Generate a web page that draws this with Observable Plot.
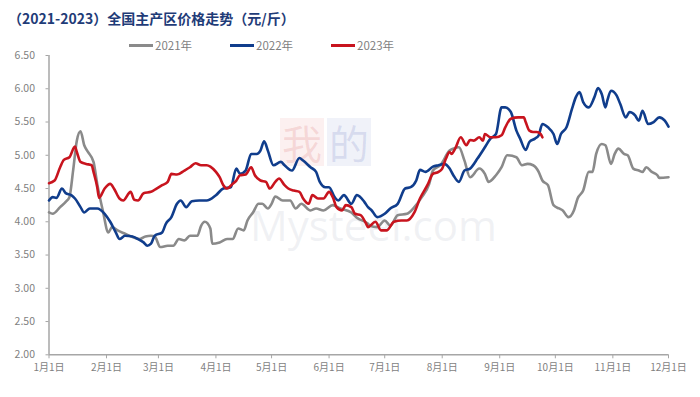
<!DOCTYPE html>
<html><head><meta charset="utf-8">
<script src="https://cdn.jsdelivr.net/npm/d3@7"></script>
<script src="https://cdn.jsdelivr.net/npm/@observablehq/plot@0.6"></script>
<style>
body{margin:0;background:#fff;font-family:"Noto Sans CJK SC","Noto Sans",sans-serif;}
#wrap{position:relative;width:700px;height:397px;overflow:hidden;background:#fff;}
#title{position:absolute;left:8px;top:8px;font-size:14px;font-weight:bold;color:#1f3c78;white-space:nowrap;}
.leg{position:absolute;top:37px;height:16px;font-size:11.5px;color:#7f7f7f;display:flex;align-items:center;white-space:nowrap;}
.leg .l{display:inline-block;width:24px;height:0;border-top:3px solid;margin-right:2px;}
#chart{position:absolute;left:0;top:40px;}
.wm{position:absolute;pointer-events:none;}
</style>
</head><body>
<div id="wrap">
  <div class="wm" style="left:280px;top:118px;width:44px;height:48px;background:rgba(225,110,110,0.10);color:rgba(210,80,80,0.16);font-size:40px;line-height:48px;text-align:center;">我</div>
  <div class="wm" style="left:327px;top:118px;width:44px;height:48px;background:rgba(110,130,200,0.10);color:rgba(80,100,180,0.16);font-size:40px;line-height:48px;text-align:center;">的</div>
  <div class="wm" style="left:250px;top:196px;font-size:42px;font-family:'Open Sans',sans-serif;color:rgba(190,195,205,0.22);">Mysteel.com</div>
  <div id="title"></div>
  <div id="legend"></div>
  <div id="chart"></div>
</div>
<script>
const titleText = "（2021-2023）全国主产区价格走势（元/斤）";
const seriesNames = ["2021年", "2022年", "2023年"];
const seriesColors = ["#8a8a8a", "#103d8c", "#c8141e"];
const yTicks = [2.0, 2.5, 3.0, 3.5, 4.0, 4.5, 5.0, 5.5, 6.0, 6.5];
const monthTicks = ["01-01","02-01","03-01","04-01","05-01","06-01","07-01","08-01","09-01","10-01","11-01","12-01"];

const dates2021 = ["01-01","01-03","01-07","01-10","01-12","01-14","01-16","01-18","01-20","01-22","01-25","01-27","01-30","02-02","02-04","02-07","02-11","02-15","02-19","02-22","02-25","02-27","03-02","03-06","03-09","03-12","03-15","03-18","03-22","03-24","03-26","03-29","03-30","04-03","04-07","04-10","04-13","04-16","04-18","04-21","04-24","04-26","04-29","05-01","05-03","05-07","05-11","05-14","05-17","05-22","05-25","05-29","06-03","06-07","06-13","06-16","06-22","06-23","06-27","07-01","07-04","07-08","07-13","07-17","07-21","07-25","07-27","07-31","08-05","08-07","08-10","08-13","08-16","08-21","08-24","08-26","08-30","09-02","09-05","09-10","09-13","09-16","09-19","09-22","09-24","09-27","09-30","10-03","10-05","10-08","10-11","10-13","10-16","10-19","10-21","10-23","10-26","10-28","10-31","11-02","11-04","11-07","11-09","11-12","11-15","11-17","11-19","11-22","11-25","11-26","12-01"];
const values2021 = [4.14,4.12,4.22,4.30,4.37,4.77,5.22,5.36,5.15,5.05,4.90,4.57,4.17,3.84,3.92,3.87,3.82,3.77,3.74,3.78,3.79,3.78,3.62,3.64,3.64,3.74,3.72,3.79,3.79,3.94,4.00,3.90,3.67,3.69,3.74,3.74,3.90,3.87,4.02,4.14,4.27,4.27,4.20,4.27,4.38,4.32,4.32,4.20,4.27,4.17,4.20,4.17,4.25,4.20,4.14,4.06,3.97,3.94,3.92,4.02,3.94,4.10,4.12,4.22,4.37,4.57,4.77,4.85,5.07,5.10,5.12,4.92,4.67,4.80,4.72,4.60,4.70,4.82,5.00,4.97,4.85,4.87,4.85,4.75,4.62,4.55,4.25,4.20,4.17,4.07,4.17,4.35,4.47,4.75,4.75,5.02,5.17,5.15,4.87,5.02,5.10,5.02,5.00,4.80,4.77,4.75,4.82,4.75,4.70,4.66,4.67];

const dates2022 = ["01-01","01-03","01-05","01-08","01-10","01-13","01-15","01-18","01-20","01-23","01-27","01-31","02-03","02-06","02-08","02-11","02-15","02-18","02-21","02-23","02-25","02-27","03-03","03-05","03-08","03-11","03-13","03-16","03-19","03-23","03-27","04-01","04-05","04-09","04-12","04-14","04-17","04-20","04-23","04-25","04-27","04-29","05-02","05-06","05-08","05-12","05-16","05-18","05-22","05-25","05-27","05-30","06-01","06-04","06-06","06-09","06-13","06-16","06-20","06-22","06-24","06-27","07-01","07-04","07-08","07-12","07-15","07-18","07-20","07-23","07-27","07-30","08-02","08-05","08-07","08-10","08-13","08-16","08-20","08-24","08-27","08-30","09-02","09-04","09-07","09-10","09-12","09-15","09-17","09-20","09-22","09-24","09-27","09-30","10-02","10-04","10-07","10-10","10-12","10-14","10-16","10-19","10-22","10-24","10-26","10-28","10-29","10-31","11-03","11-05","11-08","11-10","11-13","11-15","11-17","11-20","11-23","11-26","11-29","12-01"];
const values2022 = [4.32,4.37,4.36,4.50,4.43,4.40,4.35,4.22,4.14,4.20,4.20,4.12,4.00,3.84,3.74,3.79,3.78,3.74,3.69,3.64,3.67,3.79,3.84,3.97,4.07,4.27,4.32,4.22,4.31,4.32,4.32,4.40,4.50,4.52,4.80,4.72,4.77,5.02,5.02,5.07,5.21,5.07,4.85,4.90,4.85,4.77,4.96,4.92,4.82,4.75,4.60,4.52,4.52,4.37,4.32,4.40,4.27,4.40,4.30,4.22,4.17,4.07,4.12,4.20,4.27,4.50,4.52,4.62,4.78,4.75,4.83,4.85,4.87,4.80,4.70,4.60,4.77,4.80,4.95,5.12,5.25,5.32,5.72,5.72,5.65,5.37,5.25,5.08,5.20,5.25,5.30,5.47,5.42,5.32,5.17,5.32,5.42,5.70,5.87,5.95,5.80,5.72,5.87,6.01,5.92,5.72,5.82,5.97,5.90,5.77,5.57,5.65,5.60,5.52,5.67,5.47,5.50,5.57,5.52,5.43];

const dates2023 = ["01-01","01-04","01-07","01-09","01-12","01-15","01-16","01-18","01-21","01-24","01-25","01-27","01-28","01-31","02-03","02-05","02-08","02-10","02-14","02-16","02-18","02-21","02-25","02-28","03-03","03-06","03-08","03-11","03-15","03-18","03-21","03-24","03-27","03-29","04-01","04-03","04-05","04-07","04-10","04-12","04-14","04-17","04-20","04-22","04-25","04-28","04-30","05-03","05-05","05-08","05-10","05-13","05-16","05-18","05-21","05-23","05-26","05-29","06-01","06-03","06-05","06-08","06-10","06-13","06-15","06-18","06-21","06-22","06-26","06-29","07-02","07-06","07-10","07-13","07-17","07-20","07-24","07-27","07-30","08-01","08-03","08-05","08-06","08-08","08-11","08-14","08-16","08-18","08-21","08-23","08-24","08-27","08-30","09-02","09-04","09-07","09-11","09-14","09-15","09-17","09-19","09-21","09-23","09-24"];
const values2023 = [4.58,4.62,4.82,4.93,4.97,5.13,5.05,4.90,4.87,4.85,4.75,4.52,4.36,4.50,4.57,4.50,4.35,4.32,4.45,4.33,4.32,4.43,4.45,4.50,4.55,4.60,4.72,4.71,4.77,4.82,4.88,4.85,4.85,4.83,4.75,4.67,4.55,4.50,4.57,4.62,4.70,4.71,4.82,4.70,4.62,4.60,4.50,4.60,4.65,4.55,4.50,4.47,4.45,4.35,4.27,4.40,4.35,4.35,4.45,4.37,4.22,4.17,4.25,4.22,4.12,4.10,3.97,3.92,4.00,3.87,3.87,4.00,4.02,4.02,4.14,4.35,4.55,4.72,4.75,4.80,4.95,5.05,5.02,5.10,5.27,5.15,5.23,5.22,5.27,5.22,5.32,5.27,5.27,5.30,5.42,5.55,5.57,5.57,5.50,5.37,5.35,5.35,5.32,5.27];

const toDate = md => new Date(Date.UTC(2021, +md.slice(0,2) - 1, +md.slice(3,5)));
const allDates = [dates2021, dates2022, dates2023];
const allValues = [values2021, values2022, values2023];
const rows = [];
seriesNames.forEach((name, i) => {
  allDates[i].forEach((md, j) => rows.push({series: name, date: toDate(md), value: allValues[i][j]}));
});

document.getElementById("title").textContent = titleText;
const legendX = [129, 230, 331];
const legend = document.getElementById("legend");
seriesNames.forEach((name, i) => {
  const d = document.createElement("div");
  d.className = "leg";
  d.style.left = legendX[i] + "px";
  d.innerHTML = `<span class="l" style="border-color:${seriesColors[i]}"></span><span>${name}</span>`;
  legend.appendChild(d);
});

const x0 = toDate(monthTicks[0]), x1 = toDate(monthTicks[monthTicks.length - 1]);
const axisColor = "#a6a6a6";
const chart = Plot.plot({
  width: 700,
  height: 357,
  marginLeft: 48.5,
  marginRight: 32,
  marginTop: 15,
  marginBottom: 42.7,
  style: {background: "transparent", fontFamily: "'Noto Sans CJK SC', 'Noto Sans', sans-serif"},
  x: {type: "utc", domain: [x0, x1], label: null},
  y: {domain: [2, 6.5], label: null},
  color: {domain: seriesNames, range: seriesColors},
  marks: [
    Plot.axisY({ticks: yTicks, tickFormat: d3.format(".2f"), tickSize: 3, tickPadding: 11, fontSize: 10.5, color: "#7f7f7f", stroke: axisColor, label: null}),
    Plot.axisX({ticks: monthTicks.map(toDate), tickFormat: d => (d.getUTCMonth() + 1) + "月1日", tickSize: 4, tickPadding: 5, fontSize: 10, color: "#7f7f7f", stroke: axisColor, label: null}),
    Plot.ruleX([x0], {stroke: axisColor, strokeWidth: 1.5}),
    Plot.ruleY([2], {stroke: axisColor, strokeWidth: 1.5}),
    Plot.line(rows, {x: "date", y: "value", z: "series", stroke: "series", strokeWidth: 2.6, curve: "monotone-x"})
  ]
});
document.getElementById("chart").appendChild(chart);
</script>
</body></html>
